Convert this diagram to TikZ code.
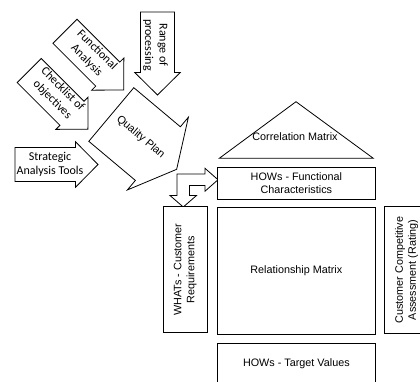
\documentclass[tikz,border=0pt]{standalone}
\usepackage{fontspec}
\setmainfont{Carlito}
\newfontfamily\arialf{Liberation Sans}
\tikzset{
  shapeline/.style={draw=black,line width=0.8pt,fill=white,line join=miter},
  cal/.style={font=\fontsize{12}{14.6}\selectfont,align=center,inner sep=0pt},
  ari/.style={font=\arialf\fontsize{10.8}{13}\selectfont,align=center,inner sep=0pt},
  box/.style={shapeline,ari,inner sep=0pt},
  pics/fatarrow/.style args={#1/#2/#3/#4}{code={
    \draw[shapeline] (0,-#3) -- ({#1-#2},-#3) -- ({#1-#2},-#4) -- (#1,0)
      -- ({#1-#2},#4) -- ({#1-#2},#3) -- (0,#3) -- cycle;}}
}
\begin{document}
\begin{tikzpicture}[x=1pt,y=-1pt]
\useasboundingbox (0,0) rectangle (420,381);
\clip (0,0) rectangle (420,381);

% Range of processing
\begin{scope}[shift={(157.5,12)},rotate=-90]
  \pic[transform shape]{fatarrow=83/22.5/17/22.75};
  \node[cal,transform shape] (rng) at (33,2) {Range of\\processing};
\end{scope}

% Functional Analysis
\begin{scope}[shift={(65,31.3)},rotate=-45]
  \pic[transform shape]{fatarrow=83/22.5/17/22.75};
  \node[cal,transform shape] (fa) at (36,-2) {Functional\\Analysis};
\end{scope}

% Checklist of objectives
\begin{scope}[shift={(29.2,70.5)},rotate=-45]
  \pic[transform shape]{fatarrow=83/22.5/17/22.75};
  \node[cal,transform shape] (chk) at (37,-3) {Checklist of\\objectives};
\end{scope}

% Strategic Analysis Tools
\begin{scope}[shift={(15,164.5)}]
  \pic{fatarrow=83/22.5/17/22.75};
  \node[cal] (sat) at (35,0) {Strategic\\Analysis Tools};
\end{scope}

% Quality Plan
\begin{scope}[shift={(111.3,114.5)},rotate=-40]
  \pic[transform shape]{fatarrow=85.3/24.5/35/47.5};
  \node[ari,font=\arialf\fontsize{11}{13}\selectfont,transform shape] (qp) at (37,-1.4) {Quality Plan};
\end{scope}

% Bent double arrow
\draw[shapeline] (177,174) -- (205,174) -- (205,168.3) -- (218,179.75) -- (205,191.2)
  -- (205,185.5) -- (189.5,185.5) -- (189.5,195.5) -- (196.5,195.5) -- (183.25,207)
  -- (170,195.5) -- (177,195.5) -- cycle;

% Correlation matrix roof
\draw[shapeline] (219.3,158.3) -- (296,101.7) -- (373.3,158.3) -- cycle;
\node[ari] (corr) at (295,136.7) {Correlation Matrix};

% Boxes
\node[box,minimum width=157.3pt,minimum height=31.7pt] (hows) at (296.35,183.15)
  {HOWs - Functional\\Characteristics};
\node[box,minimum width=157.3pt,minimum height=126.3pt] (rel) at (296.35,270.85)
  {Relationship Matrix};
\node[box,minimum width=157.3pt,minimum height=41.4pt] (tgt) at (296.35,364)
  {HOWs - Target Values};
\node[box,rotate=90,minimum width=126pt,minimum height=44pt] (whats) at (185.3,269.7)
  {WHATs - Customer\\Requirements};
\node[box,rotate=90,minimum width=126.6pt,minimum height=44pt] (cca) at (406.7,270)
  {Customer Competitive\\Assessment (Rating)};
\end{tikzpicture}
\end{document}
